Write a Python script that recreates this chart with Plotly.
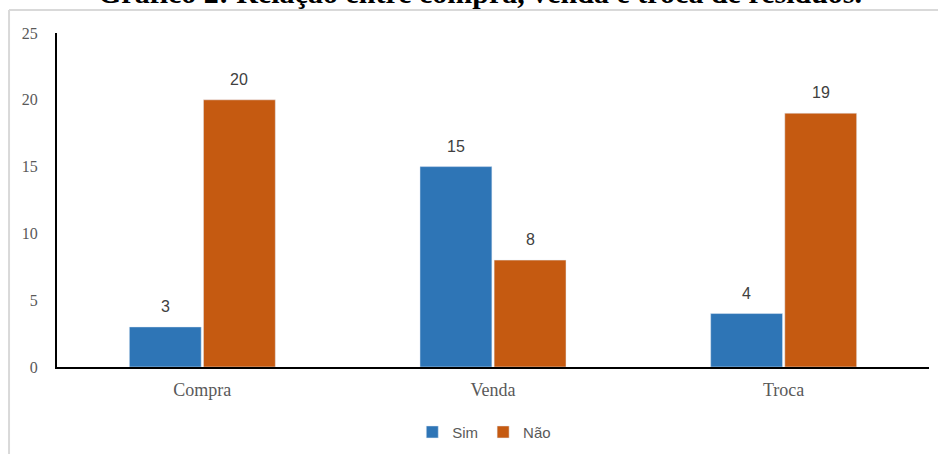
import plotly.graph_objects as go

categories = ["Compra", "Venda", "Troca"]
sim = [3, 15, 4]
nao = [20, 8, 19]
series_names = ["Sim", "Não"]
title_text = "Gráfico 2: Relação entre compra, venda e troca de resíduos."
y_ticks = [0, 5, 10, 15, 20, 25]

BLUE = "#2E75B6"
ORANGE = "#C55A11"
GRAY = "#595959"

fig = go.Figure()
fig.add_trace(go.Bar(name=series_names[0], x=categories, y=sim, marker_color=BLUE))
fig.add_trace(go.Bar(name=series_names[1], x=categories, y=nao, marker_color=ORANGE))

annotations = []
for vals, shift in ((sim, -37), (nao, 37)):
    for c, v in zip(categories, vals):
        annotations.append(dict(x=c, y=v, xref="x", yref="y", text=str(v), showarrow=False,
                                xshift=shift, yanchor="bottom", yshift=10,
                                font=dict(family="Liberation Sans, Arial", size=16, color="#404040")))
annotations.append(dict(x=0.485, y=1.066, xref="paper", yref="paper", text="<b>" + title_text + "</b>",
                        showarrow=False, yanchor="bottom", xanchor="center",
                        font=dict(family="Liberation Serif, Times New Roman", size=30, color="#000000")))

fig.update_layout(
    width=938, height=454,
    margin=dict(l=57, r=9, t=33, b=87),
    paper_bgcolor="white", plot_bgcolor="white",
    barmode="group", bargap=0.49, bargroupgap=0.03,
    showlegend=True,
    legend=dict(orientation="h", x=0.49, xanchor="center", y=0.048, yanchor="middle", yref="container",
                font=dict(family="Liberation Sans, Arial", size=15, color=GRAY),
                itemwidth=30, traceorder="normal"),
    annotations=annotations,
    shapes=[
        dict(type="line", xref="paper", yref="paper", x0=-0.055, x1=1.02, y0=1.0689, y1=1.0689,
             line=dict(color="#D9D9D9", width=2)),
        dict(type="line", xref="paper", yref="paper", x0=-0.055, x1=-0.055, y0=1.0689, y1=-0.3,
             line=dict(color="#D9D9D9", width=2)),
    ],
)
fig.update_xaxes(showline=True, linecolor="black", linewidth=2, showgrid=False, ticks="",
                 ticklabelstandoff=5,
                 tickfont=dict(family="Liberation Serif, Times New Roman", size=18, color=GRAY))
fig.update_yaxes(range=[0, 25], tickvals=y_ticks, showline=True, linecolor="black", linewidth=2,
                 showgrid=False, zeroline=False, ticks="", ticklabelstandoff=14,
                 tickfont=dict(family="Liberation Serif, Times New Roman", size=16, color=GRAY))

fig.write_html("out.html", config={"displayModeBar": False},
               post_script="document.body.style.margin='0';")
